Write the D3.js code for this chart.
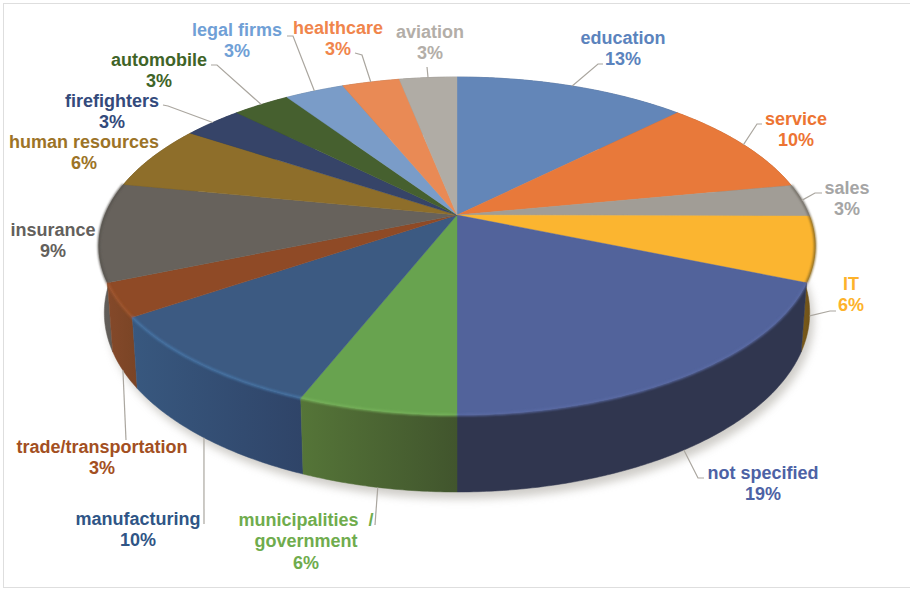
<!DOCTYPE html>
<html>
<head>
<meta charset="utf-8">
<script src="https://cdn.jsdelivr.net/npm/d3@7"></script>
<style>
  html, body { margin: 0; padding: 0; background: #fff; }
  svg { display: block; }
  text { font-family: "Liberation Sans", Arial, sans-serif; font-weight: bold; font-size: 18px; text-anchor: middle; }
</style>
</head>
<body>
<div id="chart"></div>
<script>
// Employment sectors of respondents, percent of all answers
const categories = ["education", "service", "sales", "IT", "not specified",
  "municipalities \u00a0/|government", "manufacturing", "trade/transportation",
  "insurance", "human resources", "firefighters", "automobile",
  "legal firms", "healthcare", "aviation"];
const shares = [12.5, 9.5, 3.1, 6.2, 18.7, 6.0, 9.5, 3.2, 9.4, 6.2, 3.2, 3.1, 3.2, 3.1, 3.1];

// Face, rim and side-wall colours, one per sector
const faceColors = ["#6386b8", "#e8793a", "#a19d96", "#fbb530", "#52639b", "#68a34f", "#3c5a82", "#8f4a26",
  "#67625c", "#8e6e2a", "#364468", "#46602f", "#7a9cc8", "#e98a55", "#b0aca5"];
const textColors = ["#5b83bd", "#ed7433", "#a5a5a5", "#fdb22b", "#4d62a5", "#6fac4d", "#2f5586", "#a34f22",
  "#63605c", "#9c7327", "#334a7c", "#3f6428", "#70a0d6", "#f0854c", "#b3aea8"];
const rimColors = ["#6386b8", "#e8793a", "#6f6b62", "#8a6a20", "#5a6ba5", "#76b25a", "#4676a8", "#a0562e",
  "#57534e", "#8e6e2a", "#364468", "#46602f", "#7a9cc8", "#e98a55", "#b0aca5"];
const wallStart = ["#4a6489", "#ad5a2b", "#787570", "#7a5a1a", "#30364f", "#557538", "#38587f", "#84492a",
  "#625e5a", "#6a5220", "#28334e", "#344823", "#5b7595", "#ae6740", "#84817c"];
const wallEnd = ["#4a6489", "#ad5a2b", "#787570", "#6a4f18", "#30364f", "#41552d", "#2f4468", "#7a4425",
  "#5c5854", "#6a5220", "#28334e", "#344823", "#5b7595", "#ae6740", "#84817c"];

// Label centres and leader-line bends, in drawing order
const labelCentres = [[623, 37], [796, 118], [847, 187], [851, 283], [763, 472], [306, 519], [138, 518],
  [102, 446], [53, 229], [84, 141], [112, 100], [159, 59], [237, 29], [338, 27], [430, 31]];
const leaderBends = [
  [[598, 64], [603, 64]], [[757, 124], [762, 124]], [[815, 193], [822, 193]], [[830, 311], [836, 311]],
  [[698, 478], [704, 478]], [[375, 525]], [[204, 524]], [[126, 440]], null, null,
  [[168, 106], [163, 105]], [[217, 65], [211, 65]], [[293, 36], [287, 36]], [[362, 55], [355, 53]], [[427, 67]]
];

const width = 910, height = 589;
const cx = 457, cy = 215;          // pie apex on the top face
const spanX = 352, spanY = 163.3;  // radii of the disc before foreshortening
const foreshorten = 0.1835;        // far edge of the disc shrinks by this factor
const wallShrink = 0.985, wallStretch = 1.06, wallDrop = 65; // lower rim relative to the upper rim

const topRim = a => {
  const u = Math.sin(a), v = Math.cos(a), w = 1 + foreshorten * v;
  return [cx + spanX * u / w, cy - spanY * v / w];
};
const bottomRim = a => {
  const [x, y] = topRim(a);
  return [cx + (x - cx) * wallShrink, cy + (y - cy) * wallStretch + wallDrop];
};
const arcAngles = (a0, a1) => {
  const n = Math.max(2, Math.ceil((a1 - a0) / 0.01));
  return d3.range(n + 1).map(i => a0 + (a1 - a0) * i / n);
};

const slices = d3.pie().sort(null).value(d => d)(shares);
const line = d3.line();

const svg = d3.select("#chart").append("svg").attr("width", width).attr("height", height);
const defs = svg.append("defs");
defs.append("filter").attr("id", "softShadow").attr("x", "-10%").attr("y", "-10%").attr("width", "120%").attr("height", "120%")
  .append("feGaussianBlur").attr("stdDeviation", 4);
defs.append("filter").attr("id", "softRim").attr("x", "-5%").attr("y", "-5%").attr("width", "110%").attr("height", "110%")
  .append("feGaussianBlur").attr("stdDeviation", 0.9);

// Picture frame
svg.append("rect").attr("x", 3.5).attr("y", 3.5).attr("width", 920).attr("height", 584)
  .attr("fill", "#fff").attr("stroke", "#dedede").attr("stroke-width", 1);

// Soft shadow under the disc
svg.append("path")
  .attr("d", line(arcAngles(0, 2 * Math.PI).map(bottomRim)) + "Z")
  .attr("transform", "translate(4,7)")
  .attr("fill", "#a8a49c").attr("opacity", 0.55).attr("filter", "url(#softShadow)");

// Side walls, back to front
const wallOrder = d3.range(slices.length)
  .sort((i, j) => topRim((slices[i].startAngle + slices[i].endAngle) / 2)[1] - topRim((slices[j].startAngle + slices[j].endAngle) / 2)[1]);
const walls = svg.append("g");
wallOrder.forEach(i => {
  const s = slices[i];
  const angles = arcAngles(s.startAngle, s.endAngle);
  const upper = angles.map(topRim), lower = angles.map(bottomRim).reverse();
  const xs = upper.concat(lower).map(p => p[0]);
  const grad = defs.append("linearGradient").attr("id", "wall" + i)
    .attr("gradientUnits", "userSpaceOnUse")
    .attr("x1", d3.min(xs)).attr("x2", d3.max(xs)).attr("y1", 0).attr("y2", 0);
  grad.append("stop").attr("offset", 0).attr("stop-color", wallStart[i]);
  grad.append("stop").attr("offset", 1).attr("stop-color", wallEnd[i]);
  walls.append("path").attr("d", line(upper.concat(lower)) + "Z")
    .attr("fill", `url(#wall${i})`).attr("stroke", `url(#wall${i})`).attr("stroke-width", 0.5);
});

// Top face wedges
svg.append("g").selectAll("path").data(slices).join("path")
  .attr("d", s => line([[cx, cy]].concat(arcAngles(s.startAngle, s.endAngle).map(topRim))) + "Z")
  .attr("fill", (s, i) => faceColors[i])
  .attr("stroke", (s, i) => faceColors[i]).attr("stroke-width", 0.4);

// Soft bevel along the rim of the wedges facing the viewer and the sides
svg.append("g").attr("filter", "url(#softRim)").selectAll("path")
  .data(slices.filter(s => (s.startAngle + s.endAngle) / 2 > 1.3 && (s.startAngle + s.endAngle) / 2 < 3 * Math.PI / 2))
  .join("path")
  .attr("d", s => line(arcAngles(s.startAngle, s.endAngle).map(topRim)))
  .attr("fill", "none")
  .attr("stroke", s => rimColors[s.index]).attr("stroke-width", 2.2);

// Leader lines start on the visible rim at each wedge's middle angle
const leaders = svg.append("g").attr("fill", "none").attr("stroke", "#aaa69f").attr("stroke-width", 1.2);
slices.forEach((s, i) => {
  if (!leaderBends[i]) return;
  const mid = (s.startAngle + s.endAngle) / 2;
  const front = mid > 1.7 && mid < 4.6;
  const anchor = front ? bottomRim(mid) : topRim(mid);
  leaders.append("path").attr("d", line([anchor].concat(leaderBends[i])));
});

// Category and percent labels
const labels = svg.append("g");
slices.forEach((s, i) => {
  const lines = categories[i].split("|").concat(Math.round(shares[i]) + "%");
  const [x, y] = labelCentres[i];
  const t = labels.append("text").attr("fill", textColors[i]);
  lines.forEach((txt, k) => {
    t.append("tspan").attr("x", x).attr("y", y + 6.5 + k * 21.5).text(txt);
  });
});
</script>
</body>
</html>
